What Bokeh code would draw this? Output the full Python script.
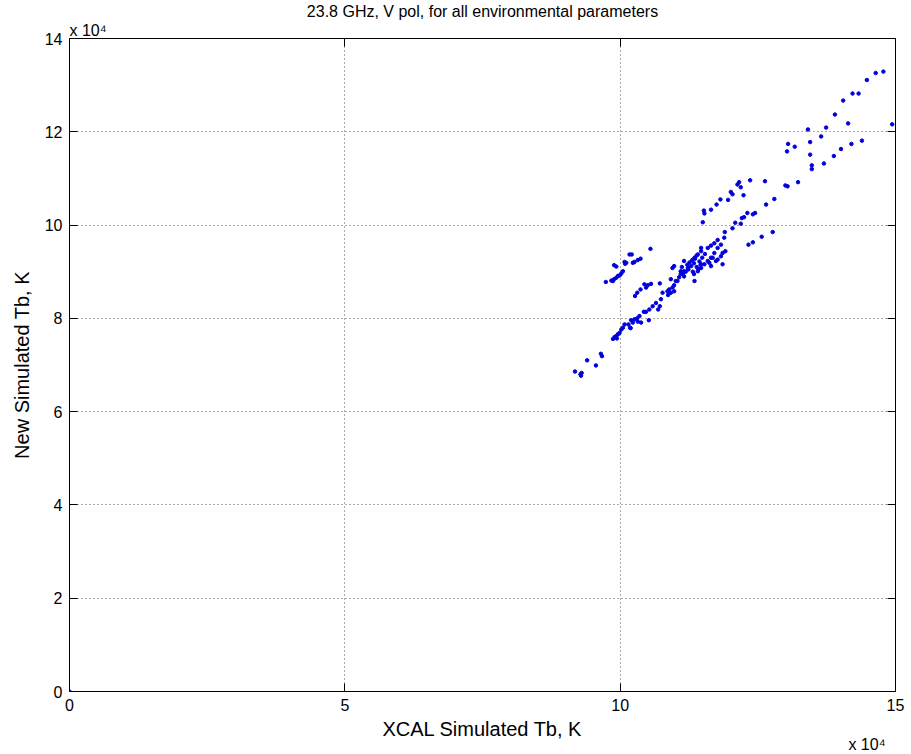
from bokeh.plotting import figure
from bokeh.models import (ColumnDataSource, LinearAxis, FixedTicker,
                          Range1d, Grid, Title)
from bokeh.embed import file_html
from bokeh.resources import INLINE

# Brightness temperatures in units of 1e4 K
xcal_tb = [
    9.18, 9.28, 9.30, 9.29, 9.40, 9.56, 9.65, 9.67, 9.87, 9.93,
    9.96, 9.99, 10.02, 10.05, 10.08, 10.15, 10.18, 10.23, 10.32, 9.94,
    9.90, 10.20, 10.26, 10.31, 10.35, 10.43, 10.47, 10.53, 10.59, 10.52,
    10.38, 10.19, 10.65, 10.69, 10.72, 10.74, 10.87, 10.92, 10.98, 10.77,
    10.86, 10.89, 10.95, 10.98, 11.01, 11.07, 11.10, 11.16, 11.23, 11.29,
    11.24, 11.34, 11.39, 11.32, 11.19, 11.44, 11.36, 11.26, 11.42, 11.14,
    11.49, 11.22, 11.34, 11.46, 11.31, 11.12, 11.54, 11.39, 11.16, 11.35,
    11.47, 11.41, 11.47, 11.53, 11.59, 11.65, 11.71, 11.77, 11.83, 11.62,
    11.65, 11.77, 11.83, 11.86, 11.91, 11.89, 11.90, 12.04, 12.09, 12.19,
    12.21, 12.25, 12.31, 12.41, 12.45, 12.65, 12.80, 11.77, 11.71, 11.65,
    11.59, 11.47, 12.33, 12.41, 12.57, 12.77, 11.50, 11.52, 11.53, 11.65,
    11.75, 11.82, 11.96, 12.01, 12.04, 12.13, 12.16, 12.19, 12.24, 12.36,
    12.63, 13.00, 13.04, 13.23, 13.03, 13.05, 13.17, 13.41, 13.45, 13.45,
    13.48, 13.48, 13.65, 13.74, 13.70, 13.88, 13.90, 14.01, 14.05, 14.14,
    14.20, 14.22, 14.33, 14.39, 14.48, 14.64, 14.78, 14.94, 10.55, 10.17,
    10.21, 10.37, 10.32, 10.26, 10.23, 10.11, 10.08, 9.89, 9.93, 10.05,
    10.02, 9.99, 9.96, 9.93, 9.89, 9.87, 9.84, 9.74, 10.09, 10.56,
    10.50, 10.44, 10.47, 10.37, 10.31, 10.27, 10.72, 10.92, 11.04, 10.98,
    10.95, 11.10, 11.47, 11.41, 11.35, 11.86, 11.68, 11.74, 11.16, 0.0,
]
new_tb = [
    6.86, 6.80, 6.83, 6.77, 7.10, 6.99, 7.24, 7.19, 7.56, 7.62,
    7.66, 7.69, 7.76, 7.80, 7.87, 7.87, 7.80, 7.91, 7.93, 7.57,
    7.60, 7.96, 7.98, 8.00, 8.05, 8.14, 8.14, 8.19, 8.26, 7.96,
    7.91, 7.79, 8.33, 8.19, 8.26, 8.41, 8.50, 8.55, 8.58, 8.55,
    8.58, 8.62, 8.66, 8.71, 8.80, 8.88, 8.95, 9.01, 9.08, 9.12,
    9.05, 9.18, 9.10, 9.00, 9.00, 9.22, 9.28, 9.20, 9.05, 8.95,
    9.30, 9.15, 8.95, 9.15, 9.25, 9.10, 9.38, 9.35, 8.90, 8.80,
    9.16, 9.01, 9.08, 9.16, 9.23, 9.30, 9.40, 9.51, 9.58, 9.19,
    9.12, 9.26, 9.33, 9.16, 9.44, 9.73, 9.85, 9.93, 10.05, 10.03,
    10.15, 10.17, 10.26, 10.23, 10.26, 10.44, 10.56, 9.68, 9.61, 9.56,
    9.51, 9.51, 9.58, 9.63, 9.75, 9.85, 10.06, 10.31, 10.25, 10.33,
    10.44, 10.55, 10.54, 10.71, 10.66, 10.87, 10.92, 10.81, 10.64, 10.96,
    10.94, 10.85, 10.83, 10.92, 11.58, 11.74, 11.68, 12.05, 11.78, 11.51,
    11.28, 11.20, 11.90, 12.09, 11.32, 11.48, 12.37, 11.63, 12.67, 12.18,
    11.74, 12.82, 12.82, 11.81, 13.11, 13.26, 13.29, 12.16, 9.49, 9.37,
    9.37, 9.28, 9.25, 9.21, 9.19, 9.19, 9.21, 9.14, 9.11, 9.01,
    8.96, 8.92, 8.91, 8.87, 8.84, 8.80, 8.81, 8.78, 9.17, 8.74,
    8.71, 8.73, 8.66, 8.62, 8.55, 8.48, 8.75, 8.84, 8.80, 9.12,
    9.08, 9.01, 9.44, 9.37, 9.30, 9.40, 9.30, 9.23, 9.23, 0.0,
]

x_ticks = [0, 5, 10, 15]
y_ticks = [0, 2, 4, 6, 8, 10, 12, 14]
scale_text = "x 10\u2074"

FONT = "Liberation Sans"

source = ColumnDataSource(data=dict(x=xcal_tb, y=new_tb))

p = figure(
    width=911, height=754,
    x_range=Range1d(0, 15), y_range=Range1d(0, 14),
    output_backend="svg", toolbar_location=None,
    min_border_left=69, min_border_right=16,
    min_border_top=37, min_border_bottom=63,
    x_axis_location=None, y_axis_location=None,
    title="23.8 GHz, V pol, for all environmental parameters",
)
p.background_fill_color = "white"
p.border_fill_color = "white"
p.outline_line_color = "black"
p.outline_line_width = 1
p.title.text_font = FONT
p.title.text_font_size = "16px"
p.title.text_font_style = "normal"
p.title.align = "center"
p.title.text_color = "black"
p.title.offset = 0
p.title.standoff = 0

# drop the default grids; dotted ones are added below
for g in list(p.grid):
    g.visible = False

xaxis = LinearAxis(
    ticker=FixedTicker(ticks=x_ticks),
    axis_label="XCAL Simulated Tb, K",
)
yaxis = LinearAxis(
    ticker=FixedTicker(ticks=y_ticks),
    axis_label="New Simulated Tb, K",
)
top_axis = LinearAxis(ticker=FixedTicker(ticks=x_ticks))
right_axis = LinearAxis(ticker=FixedTicker(ticks=y_ticks))

for ax in (xaxis, yaxis, top_axis, right_axis):
    ax.major_tick_in = 8
    ax.major_tick_out = 0
    ax.minor_tick_line_color = None
    ax.axis_line_color = "black"
    ax.major_tick_line_color = "black"
    ax.major_label_text_font = FONT
    ax.major_label_text_font_size = "16px"
    ax.major_label_text_color = "black"
    ax.axis_label_text_font = FONT
    ax.axis_label_text_font_size = "20px"
    ax.axis_label_text_font_style = "normal"
    ax.axis_label_text_color = "black"

for ax in (top_axis, right_axis):
    ax.major_label_text_font_size = "0px"
    ax.major_label_standoff = 0

xaxis.major_label_standoff = 7
xaxis.axis_label_standoff = 4
yaxis.major_label_standoff = 7
yaxis.axis_label_standoff = 9

p.add_layout(xaxis, "below")
p.add_layout(yaxis, "left")
p.add_layout(top_axis, "above")
p.add_layout(right_axis, "right")


def scale_title(align, offset, standoff):
    return Title(text=scale_text, align=align, offset=offset,
                 standoff=standoff, text_font=FONT, text_font_size="16px",
                 text_font_style="normal", text_color="black")


# axis scale factors: y at the top-left corner, x under the last tick
p.add_layout(scale_title("left", 0, 0), "above")
p.add_layout(scale_title("right", 10, -20), "below")

for dim, ticks in ((0, x_ticks), (1, y_ticks)):
    g = Grid(dimension=dim, ticker=FixedTicker(ticks=ticks))
    g.grid_line_color = "#555555"
    g.grid_line_dash = "1 3"
    g.grid_line_width = 1
    p.add_layout(g)

p.scatter("x", "y", source=source, marker="circle", size=3.5,
          fill_color="#0000dd", line_color="#0000dd")

with open("out.html", "w") as f:
    f.write(file_html(p, INLINE))
